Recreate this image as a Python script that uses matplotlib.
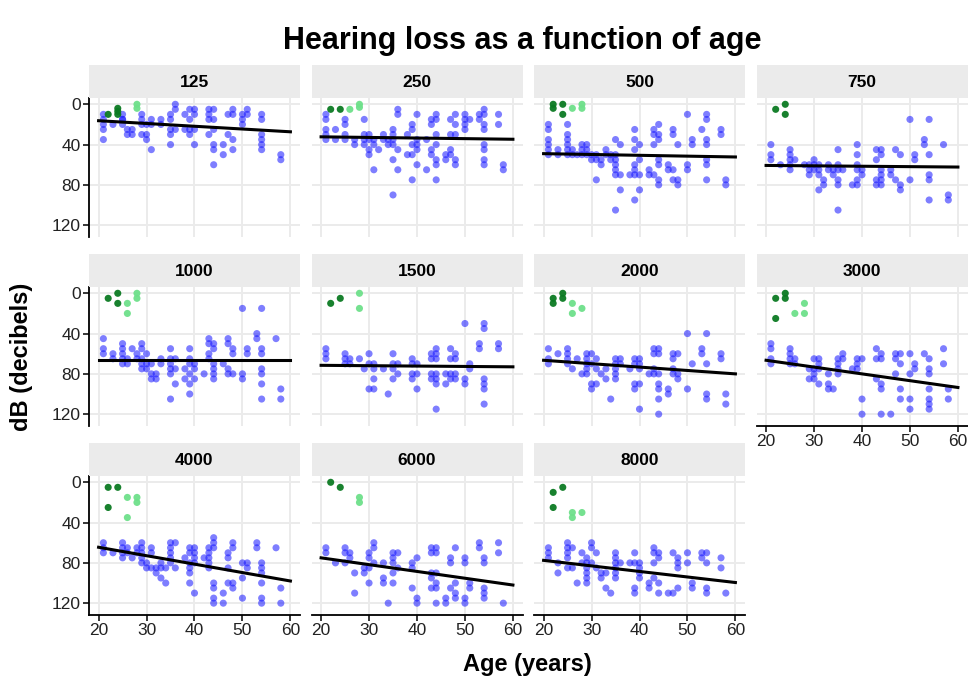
import numpy as np
import matplotlib
matplotlib.use('Agg')
import matplotlib.pyplot as plt

plt.rcParams['font.family'] = ['Liberation Sans', 'DejaVu Sans']

freqs = ['125', '250', '500', '750', '1000', '1500', '2000', '3000', '4000', '6000', '8000']

# hearing threshold (dB) by age, one dict per frequency: age -> readings
blue_125 = {21: [10, 15, 20, 25, 35], 23: [20], 25: [10, 15, 15, 20], 26: [25, 30], 27: [25, 30],
            29: [10, 15, 20, 30], 30: [20, 30, 35], 31: [15, 20, 45], 33: [15, 20],
            35: [10, 15, 25, 30, 40], 36: [0, 5, 25], 38: [10, 25], 39: [5, 15, 25, 30],
            40: [5, 10, 25, 40], 43: [5, 10, 15, 30], 44: [5, 15, 25, 40, 45, 60], 46: [40, 50],
            47: [10, 30], 48: [5, 10, 35, 45], 50: [10, 15, 20], 51: [5, 10],
            54: [10, 15, 30, 35, 40, 45], 58: [50, 55]}
dark_125 = {22: [10], 24: [4, 7, 10]}
light_125 = {28: [0, 4]}

blue_250 = {21: [10, 15, 25, 30, 35], 23: [25, 35], 25: [15, 20, 30, 35], 27: [35, 40],
            29: [15, 30, 35, 40], 30: [30, 35, 45, 50], 31: [35, 40, 65], 32: [45], 33: [30, 35],
            34: [35, 40], 35: [25, 30, 35, 40, 55, 90], 36: [5, 10, 45, 65], 38: [30, 50],
            39: [20, 25, 40, 50, 75], 40: [10, 35, 40, 45, 60], 42: [35, 65], 43: [15, 20, 45, 50],
            44: [10, 15, 30, 40, 55, 60, 75], 46: [50, 55], 47: [15, 30, 45, 50],
            48: [10, 20, 30, 55, 60], 50: [10, 15, 20, 25], 51: [15], 53: [10, 15],
            54: [5, 10, 20, 25, 40, 45, 55, 60], 57: [10, 20], 58: [60, 65]}
dark_250 = {22: [5], 24: [5]}
light_250 = {26: [5], 28: [0, 3]}

blue_500 = {21: [20, 25, 35, 40, 45, 50], 23: [45, 50], 25: [20, 30, 35, 40, 45, 50], 26: [45, 50],
            27: [50], 28: [40, 45, 50], 29: [40, 45, 50], 30: [50, 55], 31: [50, 55, 75],
            32: [55, 60], 33: [45, 50], 34: [50, 55], 35: [35, 50, 55, 60, 65, 70, 105],
            36: [40, 70, 85], 38: [70], 39: [25, 35, 45, 60, 65, 70, 95], 40: [40, 55, 70, 85],
            42: [65, 70], 43: [25, 30, 40, 70], 44: [20, 30, 35, 55, 60, 75, 80], 46: [60, 65],
            47: [25, 30, 65, 75], 48: [40, 75, 80], 50: [10, 60, 65], 51: [35, 40], 53: [25],
            54: [10, 15, 35, 40, 55, 60, 75], 57: [25, 30], 58: [75, 80]}
dark_500 = {22: [0, 4], 24: [0, 10]}
light_500 = {26: [4], 28: [0, 4]}

blue_750 = {21: [40, 50, 55], 23: [60], 25: [45, 50, 55, 60, 65], 26: [55], 28: [60],
            29: [60, 65, 70], 30: [55, 60, 65], 31: [60, 65, 70, 85], 32: [75, 80], 33: [60, 65],
            34: [65, 70], 35: [45, 60, 65, 75, 80, 105], 36: [65], 38: [80],
            39: [40, 50, 60, 65, 75, 80], 40: [65, 70], 43: [45, 55, 75, 80],
            44: [45, 50, 65, 70, 75, 80], 46: [65, 70], 47: [45, 75], 48: [50, 80, 85],
            50: [15, 75], 51: [50, 55], 53: [35, 40], 54: [15, 50, 70, 75, 95], 57: [40],
            58: [90, 95]}
dark_750 = {22: [5], 24: [0, 10]}
light_750 = {}

blue_1000 = {21: [45, 55, 60], 23: [60, 65], 25: [50, 55, 60, 65, 70], 26: [65, 70], 27: [55],
             28: [60, 65], 29: [50, 55, 65, 70, 75], 30: [60, 70, 75], 31: [70, 80, 85],
             32: [80, 85], 33: [65, 70], 35: [55, 65, 70, 75, 80, 105], 36: [65, 75, 90],
             38: [75, 85], 39: [55, 65, 70, 80, 90, 100], 40: [70, 75, 85], 42: [80],
             43: [45, 50, 60, 65], 44: [50, 55, 70, 75, 80, 85], 46: [70], 47: [45, 50, 75, 80],
             48: [55, 60, 80], 50: [15, 80, 85], 51: [55, 60], 53: [40, 45],
             54: [15, 55, 60, 75, 80, 90, 105], 57: [45], 58: [95, 105]}
dark_1000 = {22: [5], 24: [0, 10]}
light_1000 = {26: [10, 20], 28: [0, 5]}

blue_1500 = {21: [55, 60, 65], 25: [60, 65, 70], 26: [65, 70], 28: [65], 29: [75],
             30: [60, 70, 95], 31: [70, 75, 85, 95], 33: [75], 34: [100], 35: [60, 70, 75, 85],
             36: [70, 80], 39: [65, 70, 80, 85], 40: [70, 80, 95], 43: [60, 65, 80, 85],
             44: [55, 60, 65, 80, 85, 90, 115], 46: [80, 90], 47: [55, 65, 80, 85],
             48: [60, 65, 80, 85], 50: [30, 85, 90], 51: [70, 75], 53: [50, 55],
             54: [30, 35, 85, 90, 95, 110], 57: [50, 55]}
dark_1500 = {22: [10], 24: [5]}
light_1500 = {28: [0, 15]}

blue_2000 = {21: [55, 65, 70], 23: [60], 25: [55, 60, 65, 70], 26: [75], 27: [65], 28: [80],
             29: [60, 65, 70, 75, 80], 30: [60, 70, 90, 95], 31: [65, 75, 90], 32: [80],
             33: [75, 85], 34: [105], 35: [65, 70, 75, 80, 85], 36: [65, 70], 38: [75],
             39: [65, 70, 90, 95], 40: [65, 70, 75, 90, 115], 42: [80], 43: [55, 60, 75, 80],
             44: [55, 60, 80, 90, 95, 105, 120], 46: [95, 100], 47: [60, 65, 75, 80],
             48: [60, 80, 85], 50: [40, 95], 51: [70], 53: [55, 60], 54: [40, 70, 100, 105],
             57: [60, 65], 58: [100, 110]}
dark_2000 = {22: [5, 10], 24: [0, 5]}
light_2000 = {26: [10, 20], 28: [15]}

blue_3000 = {21: [50, 55, 65, 70], 25: [55, 60, 65, 70], 26: [65, 70], 29: [75, 85],
             30: [65, 75, 80, 85], 31: [65, 70, 75, 90], 33: [80, 90, 95], 34: [95],
             35: [65, 70, 75, 80], 36: [60, 65], 38: [75], 39: [65, 70, 75], 40: [65, 105, 120],
             43: [55, 65, 85], 44: [60, 65, 90, 95, 120], 46: [120], 47: [60, 65, 80],
             48: [60, 70, 95, 105], 50: [60, 80, 105, 115], 51: [70, 75], 53: [60],
             54: [65, 75, 80, 95, 105, 110, 115], 57: [55, 70], 58: [95, 105]}
dark_3000 = {22: [5, 25], 24: [0, 5]}
light_3000 = {26: [20], 28: [10, 20]}

blue_4000 = {21: [60, 65, 70], 23: [70], 25: [60, 65, 70, 75], 26: [65, 70], 27: [75],
             28: [65, 70], 29: [60, 65, 70, 75, 80], 30: [80, 85], 31: [65, 70, 85], 32: [85, 90],
             33: [80, 85, 95], 34: [85, 100], 35: [60, 65, 70, 75, 80], 36: [60, 85], 38: [75],
             39: [65, 70, 80, 85, 90, 100], 40: [65, 70, 75, 80, 110], 42: [75],
             43: [65, 70, 75, 80, 85], 44: [55, 60, 65, 100, 105, 115, 120], 46: [110, 120],
             47: [70, 75, 85, 100], 48: [60, 65, 100, 105], 50: [80, 95, 115], 51: [80, 85],
             53: [60, 65], 54: [80, 85, 90, 100, 115, 120], 57: [65], 58: [105, 120]}
dark_4000 = {22: [5, 25], 24: [5]}
light_4000 = {26: [15, 35], 28: [15, 20]}

blue_6000 = {21: [65, 70], 23: [80], 25: [65, 70, 80], 26: [70, 75], 27: [90, 110], 29: [85, 90],
             30: [70, 75, 85, 100], 31: [60, 65, 80], 33: [80, 95, 100], 34: [120],
             35: [70, 75, 80, 90, 100], 36: [70, 85], 39: [80, 85, 105], 40: [75, 115, 120],
             43: [65, 70, 90, 95, 105], 44: [65, 70, 90, 100, 105, 120], 46: [115, 120],
             47: [75, 80, 105], 48: [65, 100, 110, 115], 50: [75, 80, 115, 120], 51: [100, 105],
             53: [60, 65], 54: [75, 80, 105, 110, 115], 57: [60, 70], 58: [120]}
dark_6000 = {22: [0], 24: [5]}
light_6000 = {28: [15, 20]}

blue_8000 = {21: [65, 70, 75], 23: [80, 90], 25: [60, 65, 70, 75, 85], 26: [65, 85], 27: [100],
             28: [70, 80], 29: [75, 80, 85, 90, 95, 100], 30: [60, 65, 80], 31: [70, 85],
             32: [90, 95], 33: [90, 105], 34: [110], 35: [70, 75, 80, 85, 90, 95], 36: [80],
             38: [80], 39: [70, 80, 105, 110], 40: [80, 85, 90, 95], 42: [100, 105],
             43: [65, 70, 80, 95], 44: [70, 75, 100, 110], 46: [110], 47: [70, 110],
             48: [75, 80, 85, 105], 50: [70, 80], 51: [100, 105], 53: [70, 75],
             54: [70, 80, 105, 110], 57: [75, 85], 58: [110]}
dark_8000 = {22: [10, 25], 24: [5]}
light_8000 = {26: [30, 35], 28: [30]}

# fitted trend read at age 20 and age 60
trend_20 = [16.3, 32.3, 49.0, 60.7, 66.5, 71.5, 66.5, 66.5, 64.5, 75.0, 77.5]
trend_60 = [27.3, 34.7, 52.3, 62.3, 66.5, 73.0, 80.0, 93.5, 98.0, 102.0, 99.5]

blue_sets = [blue_125, blue_250, blue_500, blue_750, blue_1000, blue_1500,
             blue_2000, blue_3000, blue_4000, blue_6000, blue_8000]
dark_sets = [dark_125, dark_250, dark_500, dark_750, dark_1000, dark_1500,
             dark_2000, dark_3000, dark_4000, dark_6000, dark_8000]
light_sets = [light_125, light_250, light_500, light_750, light_1000, light_1500,
              light_2000, light_3000, light_4000, light_6000, light_8000]


def flatten(d):
    xs, ys = [], []
    for age, vals in d.items():
        for v in vals:
            xs.append(age)
            ys.append(v)
    return np.array(xs), np.array(ys)


W, H = 968, 684
fig = plt.figure(figsize=(W / 100, H / 100), dpi=100)

pw, ph = 211, 138.5
lefts = [89, 311.5, 534, 756.5]
tops = [98, 287, 476]
strip_h = 33
grid_c = '#ebebeb'

for i, f in enumerate(freqs):
    r, c = divmod(i, 4)
    l, t = lefts[c], tops[r]
    ax = fig.add_axes([l / W, 1 - (t + ph) / H, pw / W, ph / H])
    sx = fig.add_axes([l / W, 1 - t / H, pw / W, strip_h / H])
    sx.set_facecolor(grid_c)
    sx.set_xticks([])
    sx.set_yticks([])
    for s in sx.spines.values():
        s.set_visible(False)
    sx.text(0.5, 0.48, f, ha='center', va='center', fontsize=12.5, fontweight='bold',
            transform=sx.transAxes)

    ax.set_xlim(18, 62)
    ax.set_ylim(131.25, -6.25)
    ax.set_xticks([20, 30, 40, 50, 60])
    ax.set_yticks([0, 40, 80, 120])
    ax.grid(True, color=grid_c, lw=1.4)
    ax.set_axisbelow(True)
    for s in ax.spines.values():
        s.set_visible(False)

    bottom = (r == 2) or (r == 1 and c == 3)
    left = (c == 0)
    ax.tick_params(axis='both', length=4, width=1.1, color='black', labelsize=12.5,
                   labelcolor='#222222', pad=2)
    if left:
        ax.spines['left'].set_visible(True)
        ax.spines['left'].set_linewidth(1.3)
    else:
        ax.tick_params(axis='y', length=0, labelleft=False)
    if bottom:
        ax.spines['bottom'].set_visible(True)
        ax.spines['bottom'].set_linewidth(1.3)
    else:
        ax.tick_params(axis='x', length=0, labelbottom=False)

    bx, by = flatten(blue_sets[i])
    ax.scatter(bx, by, s=26, color='#1414ff', alpha=0.55, edgecolors='none', zorder=3)
    dx, dy = flatten(dark_sets[i])
    ax.scatter(dx, dy, s=26, color='#0b7a22', alpha=0.95, edgecolors='none', zorder=3)
    lx, ly = flatten(light_sets[i])
    ax.scatter(lx, ly, s=26, color='#6ee08a', alpha=0.95, edgecolors='none', zorder=3)

    ax.plot([20, 60], [trend_20[i], trend_60[i]], color='black', lw=2.2, zorder=4)

fig.text(522 / W, 1 - 41 / H, 'Hearing loss as a function of age', ha='center', va='center',
         fontsize=22, fontweight='bold')
fig.text(527 / W, 1 - 665 / H, 'Age (years)', ha='center', va='center',
         fontsize=17, fontweight='bold')
fig.text(22 / W, 1 - 357 / H, 'dB (decibels)', ha='center', va='center', rotation=90,
         fontsize=17, fontweight='bold')

fig.savefig('out.png', dpi=100)
